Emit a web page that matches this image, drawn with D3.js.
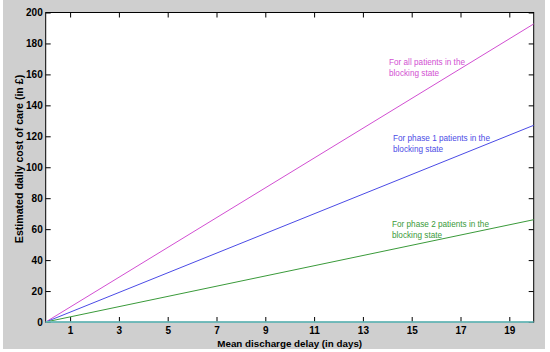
<!DOCTYPE html>
<html>
<head>
<meta charset="utf-8">
<script src="https://cdn.jsdelivr.net/npm/d3@7"></script>
<style>
body{margin:0;background:#fff}
svg text{font-family:"Liberation Sans",Arial,sans-serif}
</style>
</head>
<body>
<div id="chart"></div>
<script>
// delay in days (ends of each line)
var days = [0, 20]
var allPatients = [0, 192.6]
var phase1 = [0, 127.1]
var phase2 = [0, 66.1]
var zeroLine = [0, 0]
var xTicks = [1,3,5,7,9,11,13,15,17,19]
var yTicks = [0,20,40,60,80,100,120,140,160,180,200]

var series = [
  {name:"all", vals:allPatients, colour:"#d24fd2", width:1, text:["For all patients in the","blocking state"], tx:389, ty:65},
  {name:"p1", vals:phase1, colour:"#4b4be6", width:1, text:["For phase 1 patients in the","blocking state"], tx:393, ty:141},
  {name:"p2", vals:phase2, colour:"#3a9a3a", width:1, text:["For phase 2 patients in the","blocking state"], tx:392, ty:227},
  {name:"zero", vals:zeroLine, colour:"#72d2d2", width:1.6, text:[]}
]

var W = 550, H = 352
var plot = {left:45.7, right:533.7, top:12.5, bottom:322}

var svg = d3.select("#chart").append("svg").attr("width",W).attr("height",H)

svg.append("rect").attr("x",3).attr("y",0).attr("width",542).attr("height",349).attr("fill","#cfcfcf")
svg.append("rect").attr("x",plot.left).attr("y",plot.top)
  .attr("width",plot.right-plot.left).attr("height",plot.bottom-plot.top).attr("fill","#fff")

var x = d3.scaleLinear().domain([0,20]).range([plot.left,plot.right])
var y = d3.scaleLinear().domain([0,200]).range([plot.bottom,plot.top])

var tickLen = 5
function styleAxis(g){
  g.select(".domain").remove()
  g.selectAll(".tick line").attr("stroke","#000")
  g.selectAll("text").attr("font-size","10px").attr("font-weight","bold").attr("fill","#000")
}

// bottom + top
svg.append("g").attr("transform","translate(0,"+plot.bottom+")")
  .call(d3.axisBottom(x).tickValues(xTicks).tickSize(-tickLen).tickPadding(5).tickFormat(d3.format("d")))
  .call(styleAxis)
svg.append("g").attr("transform","translate(0,"+plot.top+")")
  .call(d3.axisTop(x).tickValues(xTicks).tickSize(-tickLen).tickFormat(""))
  .call(styleAxis)
// left + right
svg.append("g").attr("transform","translate("+plot.left+",0)")
  .call(d3.axisLeft(y).tickValues(yTicks).tickSize(-tickLen).tickPadding(3).tickFormat(d3.format("d")))
  .call(styleAxis)
svg.append("g").attr("transform","translate("+plot.right+",0)")
  .call(d3.axisRight(y).tickValues(yTicks).tickSize(-tickLen).tickFormat(""))
  .call(styleAxis)

svg.append("rect").attr("x",plot.left).attr("y",plot.top)
  .attr("width",plot.right-plot.left).attr("height",plot.bottom-plot.top)
  .attr("fill","none").attr("stroke","#000").attr("stroke-width",1)

var line = d3.line().x((d,i)=>x(days[i])).y(d=>y(d))

svg.selectAll("path.series").data(series).enter().append("path")
  .classed("series",true)
  .attr("d",d=>line(d.vals))
  .attr("fill","none")
  .attr("stroke",d=>d.colour)
  .attr("stroke-width",d=>d.width)

series.filter(d=>d.text.length).forEach(function(s){
  var t = svg.append("text").attr("x",s.tx).attr("y",s.ty)
    .attr("font-size","8.2px").attr("fill",s.colour)
  t.selectAll("tspan").data(s.text).enter().append("tspan")
    .attr("x",s.tx).attr("dy",(d,i)=>i ? 10.6 : 0).text(d=>d)
})

svg.append("text").attr("x",(plot.left+plot.right)/2).attr("y",347)
  .attr("text-anchor","middle").attr("font-size","9.8px").attr("font-weight","bold")
  .text("Mean discharge delay (in days)")

svg.append("text").attr("transform","translate(22.5,159) rotate(-90)")
  .attr("text-anchor","middle").attr("font-size","10.6px").attr("font-weight","bold")
  .text("Estimated daily cost of care (in £)")
</script>
</body>
</html>
